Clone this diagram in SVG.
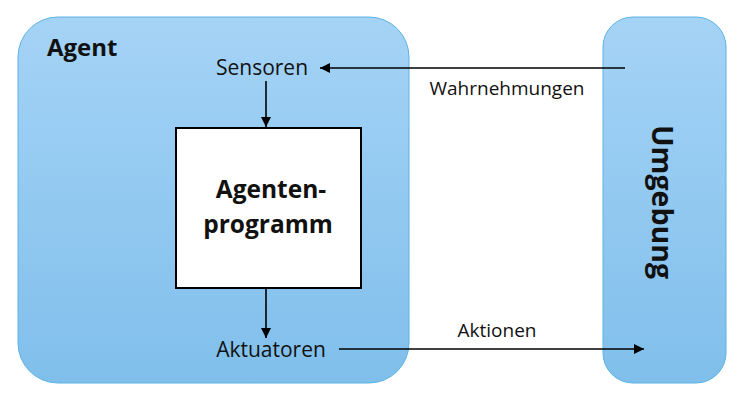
<svg xmlns="http://www.w3.org/2000/svg" width="756" height="413" viewBox="0 0 756 413">
<defs>
<linearGradient id="bg" x1="0" y1="0" x2="0" y2="1">
<stop offset="0" stop-color="#a5d3f6"/>
<stop offset="1" stop-color="#80bfeb"/>
</linearGradient>
<marker id="ah" viewBox="0 0 10 10" refX="10" refY="5" markerWidth="10" markerHeight="10" markerUnits="userSpaceOnUse" orient="auto">
<path d="M0,0 L10,5 L0,10 Z" fill="#000"/>
</marker>
<style>
.panel{fill:url(#bg);stroke:#5ab3e3;stroke-width:1}
.t{font-family:"Open Sans","Liberation Sans",sans-serif;fill:#111}
.b{font-weight:bold}
.c{stroke:#000;stroke-width:1.6;fill:none;marker-end:url(#ah)}
</style>
</defs>
<rect width="756" height="413" fill="#fff"/>
<g id="agent">
<rect class="panel" x="18" y="17" width="391" height="366" rx="40"/>
<text class="t b" x="47" y="56" font-size="24">Agent</text>
</g>
<g id="umgebung">
<rect class="panel" x="603" y="17" width="123" height="366" rx="30"/>
<text class="t b" font-size="28.5" text-anchor="middle" transform="translate(652,202) rotate(90)">Umgebung</text>
</g>
<g id="sensoren">
<text class="t" x="262" y="75" font-size="21" text-anchor="middle">Sensoren</text>
</g>
<g id="programm">
<rect x="176" y="128" width="185" height="160" fill="#fff" stroke="#000" stroke-width="2"/>
<text class="t b" x="271" y="198" font-size="24.5" text-anchor="middle">Agenten-</text>
<text class="t b" x="268" y="233" font-size="24.5" text-anchor="middle">programm</text>
</g>
<g id="aktuatoren">
<text class="t" x="271" y="357" font-size="21" text-anchor="middle">Aktuatoren</text>
</g>
<g id="connectors">
<line class="c" x1="625" y1="68" x2="320" y2="68"/>
<line class="c" x1="266" y1="81" x2="266" y2="127"/>
<line class="c" x1="266" y1="289" x2="266" y2="338"/>
<line class="c" x1="339" y1="349" x2="644" y2="349"/>
<text class="t" x="507" y="95" font-size="19" text-anchor="middle">Wahrnehmungen</text>
<text class="t" x="497" y="337" font-size="19" text-anchor="middle">Aktionen</text>
</g>
</svg>
